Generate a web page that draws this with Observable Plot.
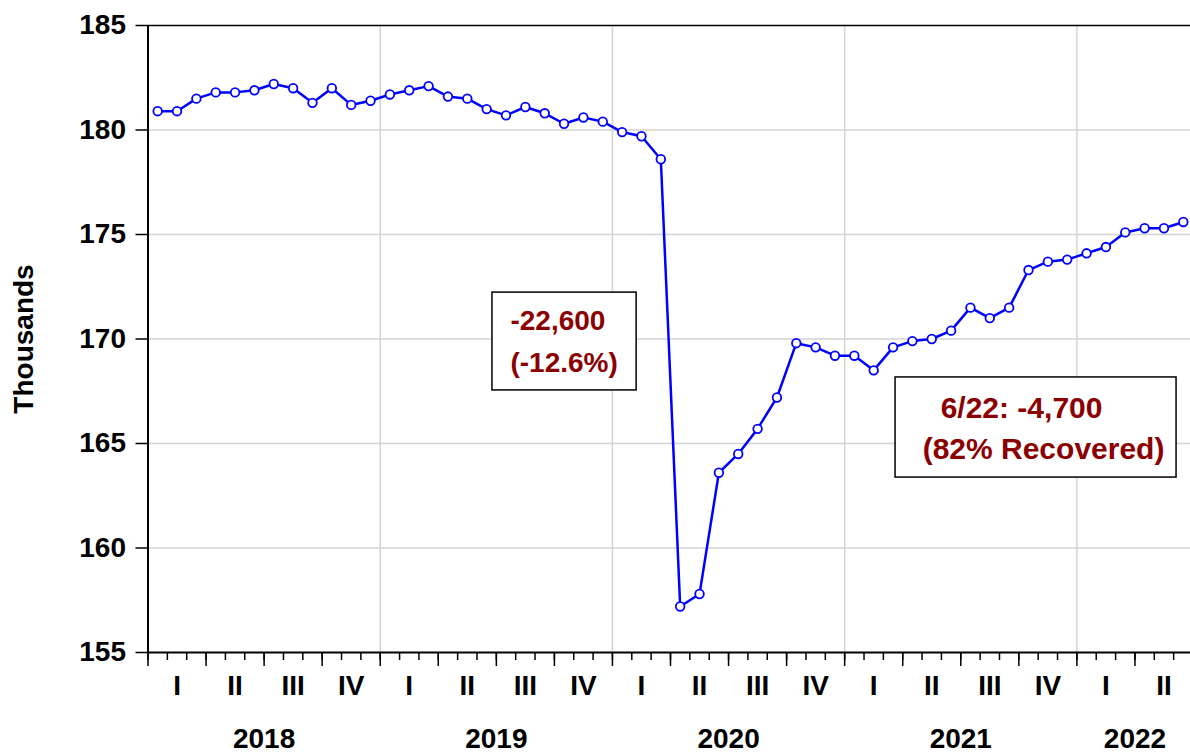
<!DOCTYPE html>
<html>
<head>
<meta charset="utf-8">
<script src="https://cdn.jsdelivr.net/npm/d3@7"></script>
<script src="https://cdn.jsdelivr.net/npm/@observablehq/plot@0.6"></script>
<style>
  html, body { margin: 0; padding: 0; background: #fff; }
</style>
</head>
<body>
<div id="chart"></div>
<script>
// ---- data (monthly, Jan 2018 – Jun 2022, thousands) ----
const years = [2018, 2019, 2020, 2021, 2022];
const quarterLabels = ["I", "II", "III", "IV"];
const values2018 = [180.9, 180.9, 181.5, 181.8, 181.8, 181.9, 182.2, 182.0, 181.3, 182.0, 181.2, 181.4];
const values2019 = [181.7, 181.9, 182.1, 181.6, 181.5, 181.0, 180.7, 181.1, 180.8, 180.3, 180.6, 180.4];
const values2020 = [179.9, 179.7, 178.6, 157.2, 157.8, 163.6, 164.5, 165.7, 167.2, 169.8, 169.6, 169.2];
const values2021 = [169.2, 168.5, 169.6, 169.9, 170.0, 170.4, 171.5, 171.0, 171.5, 173.3, 173.7, 173.8];
const values2022 = [174.1, 174.4, 175.1, 175.3, 175.3, 175.6];
const yTicks = [155, 160, 165, 170, 175, 180, 185];
const annotationLines1 = ["-22,600", "(-12.6%)"];
const annotationLines2 = ["6/22: -4,700", "(82% Recovered)"];

// ---- derived table ----
const allValues = [...values2018, ...values2019, ...values2020, ...values2021, ...values2022];
const series = allValues.map((v, i) => ({m: i + 0.5, v}));
const nMonths = 54; // axis spans Jan 2018 .. end Jun 2022
const monthTicks = d3.range(0, nMonths + 1);
const quarterTicks = d3.range(0, nMonths + 1, 3);
const quarterCenters = d3.range(0, nMonths, 3).map(q => q + 1.5);
const yearStarts = years.slice(1).map((y, i) => (i + 1) * 12);
const yearCenters = years.map((y, i) => Math.min(i * 12 + 6, (i * 12 + nMonths) / 2));

const boxes = [
  {x1: 17.8, x2: 25.25, y1: 167.54, y2: 172.22},
  {x1: 38.63, x2: 53.15, y1: 163.37, y2: 168.16}
];
const notes1 = [
  {x: 18.73, y: 170.41, t: annotationLines1[0]},
  {x: 18.73, y: 168.44, t: annotationLines1[1]}
];
const notes2 = [
  {x: 40.96, y: 166.24, t: annotationLines2[0]},
  {x: 40.03, y: 164.28, t: annotationLines2[1]}
];

const FONT = "'Liberation Sans', Arial, Helvetica, sans-serif";
const blue = "#0000ff";
const red = "#8b0000";

const chart = Plot.plot({
  width: 1190,
  height: 756,
  marginLeft: 147.5,
  marginTop: 25,
  marginBottom: 104,
  marginRight: 0,
  style: {fontFamily: FONT, fontWeight: "bold", background: "#fff"},
  x: {type: "linear", domain: [0, nMonths], range: [147.5, 1192.5], label: null},
  y: {domain: [155, 185], range: [652, 25], label: null},
  marks: [
    Plot.gridY(yTicks.filter(d => d > 155 && d < 185), {stroke: "#d3d3d3", strokeOpacity: 1, strokeWidth: 1.5}),
    Plot.gridX(yearStarts, {stroke: "#d3d3d3", strokeOpacity: 1, strokeWidth: 1.5}),
    Plot.ruleY([185], {stroke: "#000", strokeWidth: 1.5}),
    Plot.ruleY([155], {stroke: "#000", strokeWidth: 2}),
    Plot.ruleX([0], {stroke: "#000", strokeWidth: 2}),
    Plot.axisY({ticks: yTicks, tickSize: 12, tickPadding: 10, fontSize: 28, fontWeight: "bold", strokeWidth: 1.5, label: null}),
    Plot.axisX({ticks: monthTicks, tickSize: 8, tickFormat: () => "", strokeWidth: 1.5, label: null}),
    Plot.axisX({ticks: quarterTicks, tickSize: 14, tickFormat: () => "", strokeWidth: 1.5, label: null}),
    Plot.axisX({ticks: quarterCenters, tickSize: 0, tickPadding: 23, fontSize: 28, fontWeight: "bold",
      tickFormat: d => quarterLabels[Math.floor(d / 3) % 4], label: null}),
    Plot.axisX({ticks: yearCenters, tickSize: 0, tickPadding: 76, fontSize: 28, fontWeight: "bold",
      tickFormat: d => String(years[Math.floor(d / 12)]), label: null}),
    Plot.text(["Thousands"], {frameAnchor: "left", textAnchor: "middle", lineAnchor: "middle", dx: -124, rotate: -90,
      fontSize: 28, fontWeight: "bold", fill: "#000"}),
    Plot.rect(boxes, {x1: "x1", x2: "x2", y1: "y1", y2: "y2", fill: "#fff", stroke: "#000", strokeWidth: 1.5}),
    Plot.text(notes1, {x: "x", y: "y", text: "t", textAnchor: "start", lineAnchor: "bottom",
      fill: red, fontSize: 28, fontWeight: "bold"}),
    Plot.text(notes2, {x: "x", y: "y", text: "t", textAnchor: "start", lineAnchor: "bottom",
      fill: red, fontSize: 30, fontWeight: "bold"}),
    Plot.line(series, {x: "m", y: "v", stroke: blue, strokeWidth: 2.5}),
    Plot.dot(series, {x: "m", y: "v", r: 4.3, fill: "#fff", stroke: blue, strokeWidth: 1.8})
  ]
});
document.getElementById("chart").appendChild(chart);
</script>
</body>
</html>
